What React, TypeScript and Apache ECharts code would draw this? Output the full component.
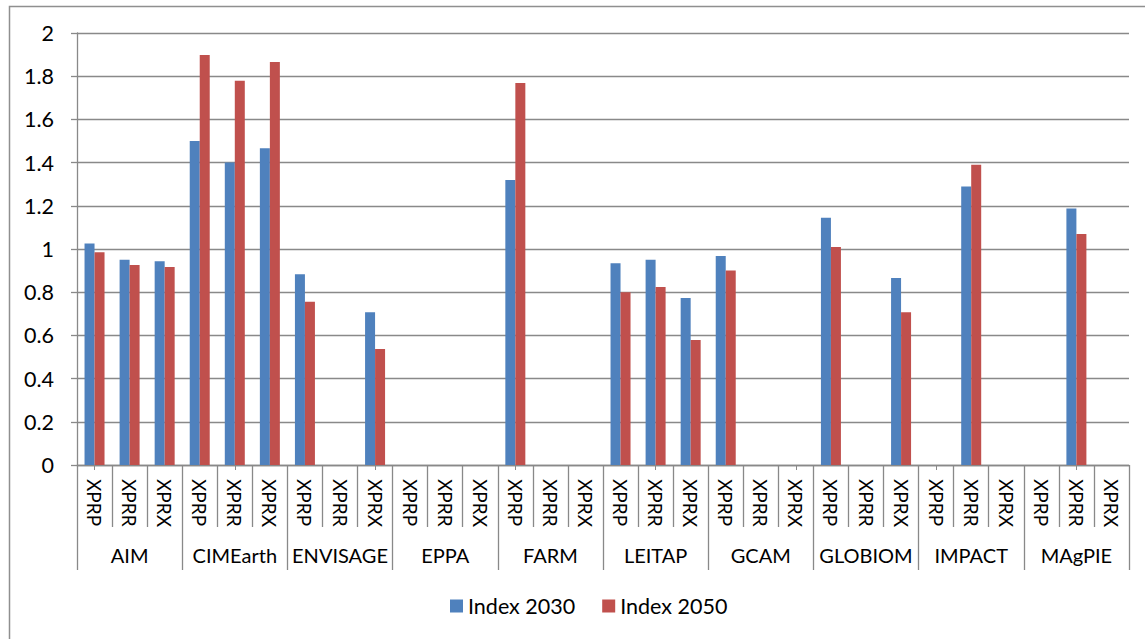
import React, { useEffect, useRef } from "react";
import * as echarts from "echarts";

const models = ["AIM", "CIMEarth", "ENVISAGE", "EPPA", "FARM", "LEITAP", "GCAM", "GLOBIOM", "IMPACT", "MAgPIE"];
const scenarios = ["XPRP", "XPRR", "XPRX"];
const seriesNames = ["Index 2030", "Index 2050"];

// per model: [XPRP, XPRR, XPRX]
const index2030: (number | null)[] = [
  1.026, 0.95, 0.943,
  1.5, 1.4, 1.466,
  0.883, null, 0.707,
  null, null, null,
  1.319, null, null,
  0.934, 0.95, 0.773,
  0.968, null, null,
  1.145, null, 0.866,
  null, 1.289, null,
  null, 1.188, null,
];
const index2050: (number | null)[] = [
  0.985, 0.926, 0.917,
  1.898, 1.779, 1.866,
  0.756, null, 0.537,
  null, null, null,
  1.769, null, null,
  0.8, 0.824, 0.579,
  0.901, null, null,
  1.009, null, 0.707,
  null, 1.39, null,
  null, 1.069, null,
];

const categories: string[] = [];
models.forEach((m) => scenarios.forEach((s) => categories.push(m + " " + s)));

const FONT = "Lato";
const GRAY = "#898989";

export default function App() {
  const ref = useRef<HTMLDivElement>(null);
  useEffect(() => {
    if (!ref.current) return;
    const chart = echarts.init(ref.current, null, { renderer: "svg" });
    chart.setOption({
      animation: false,
      textStyle: { fontFamily: FONT },
      graphic: [
        {
          type: "rect",
          shape: { x: 9.5, y: 6.5, width: 1200, height: 700 },
          style: { fill: "none", stroke: "#8f8f8f", lineWidth: 1.5 },
          silent: true,
        },
      ],
      grid: { left: 77, right: 16, top: 33, bottom: 174, containLabel: false },
      legend: {
        bottom: 17,
        left: 445,
        itemWidth: 13,
        itemHeight: 13,
        itemGap: 27,
        icon: "rect",
        textStyle: { fontFamily: FONT, fontSize: 21.5, color: "#000" },
        data: seriesNames,
      },
      xAxis: [
        {
          type: "category",
          data: categories,
          position: "bottom",
          axisLine: { show: true, lineStyle: { color: GRAY, width: 1.3 } },
          axisTick: { show: true, length: 62, lineStyle: { color: GRAY, width: 1.3 } },
          axisLabel: {
            rotate: -90,
            margin: 14,
            interval: 0,
            fontFamily: FONT,
            fontSize: 19,
            color: "#000",
            formatter: (v: string) => v.split(" ")[1],
          },
        },
        {
          type: "category",
          data: models,
          position: "bottom",
          offset: 62,
          axisLine: { show: false },
          axisTick: { show: true, length: 43, lineStyle: { color: GRAY, width: 1.3 } },
          axisLabel: {
            margin: 18,
            interval: 0,
            fontFamily: FONT,
            fontSize: 20,
            color: "#000",
          },
        },
        {
          type: "category",
          data: categories,
          position: "bottom",
          axisLine: { show: false },
          axisTick: { show: true, alignWithLabel: true, length: 5, lineStyle: { color: GRAY, width: 1 } },
          axisLabel: { show: false },
        },
      ],
      yAxis: {
        type: "value",
        min: 0,
        max: 2,
        interval: 0.2,
        axisLine: { show: true, lineStyle: { color: GRAY, width: 1.3 } },
        axisTick: { show: true, length: 6, lineStyle: { color: GRAY, width: 1.3 } },
        splitLine: { show: true, lineStyle: { color: GRAY, width: 1.3 } },
        axisLabel: { margin: 23, fontFamily: FONT, fontSize: 21.5, color: "#000" },
      },
      series: [
        {
          name: seriesNames[0],
          type: "bar",
          data: index2030,
          barWidth: 10,
          barGap: "0%",
          itemStyle: { color: "#4f81bd" },
        },
        {
          name: seriesNames[1],
          type: "bar",
          data: index2050,
          barWidth: 10,
          barGap: "0%",
          itemStyle: { color: "#c0504d" },
        },
      ],
    });
    return () => chart.dispose();
  }, []);
  return (
    <div
      ref={ref}
      style={{ position: "fixed", left: 0, top: 0, width: 1145, height: 639, background: "#fff" }}
    />
  );
}
